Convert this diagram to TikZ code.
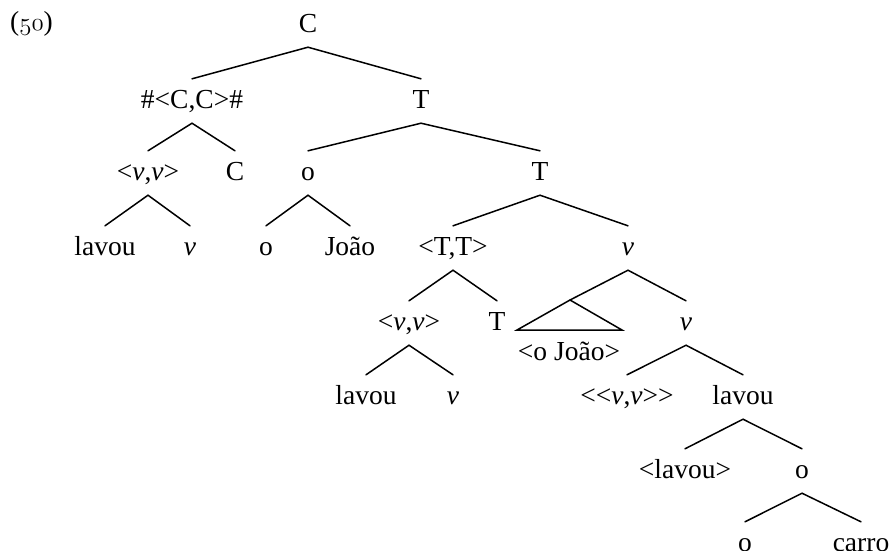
\documentclass[tikz,border=0pt]{standalone}
\usepackage{fontspec}
\setmainfont{Liberation Serif}
\newcommand{\treefont}{\fontsize{27.5}{32}\selectfont}
\newcommand{\osnum}[1]{{\usefont{OML}{lmm}{m}{it}#1}}
\newcommand{\iv}{\textit{v}}
\begin{document}
\begin{tikzpicture}[x=1pt,y=-1pt,
  lbl/.style={anchor=base, text height=20pt, text depth=6pt,
    inner xsep=0pt, inner ysep=9pt, font=\treefont},
  branch/.style={line width=1.5pt, line cap=round, line join=miter}]
\useasboundingbox (0,0) rectangle (891,550);

% example number
\node[anchor=base west, inner sep=0pt, font=\treefont] (exnum) at (10,30) {(\osnum{50})};

% level 0
\node[lbl] (C0) at (308,32) {C};
% level 1
\node[lbl] (CC1) at (192,108) {\#<C,C>\#};
\node[lbl] (T1) at (421,108) {T};
% level 2
\node[lbl] (vv2) at (148,180) {<\iv,\iv>};
\node[lbl] (C2) at (235,180) {C};
\node[lbl] (o2) at (308,180) {o};
\node[lbl] (T2) at (540,180) {T};
% level 3
\node[lbl] (lavou3) at (105,255) {lavou};
\node[lbl] (v3a) at (190,255) {\iv};
\node[lbl] (o3) at (266,255) {o};
\node[lbl] (joao3) at (350,255) {João};
\node[lbl] (TT3) at (453,255) {<T,T>};
\node[lbl] (v3) at (628,255) {\iv};
% level 4
\node[lbl] (vv4) at (409,330) {<\iv,\iv>};
\node[lbl] (T4) at (497,330) {T};
\node[lbl] (v4) at (686,330) {\iv};
\coordinate (tri) at (570,300);
\coordinate (trl) at (517,330);
\coordinate (trr) at (622,330);
\node[lbl] (ojoao4) at (569,360) {<o João>};
% level 5
\node[lbl] (lavou5) at (366,404) {lavou};
\node[lbl] (v5) at (453,404) {\iv};
\node[lbl] (vvv5) at (627,404) {<{}<\iv,\iv>{}>};
\node[lbl] (lavou5b) at (743,404) {lavou};
% level 6
\node[lbl] (lavou6) at (685,478) {<lavou>};
\node[lbl] (o6) at (802,478) {o};
% level 7
\node[lbl] (o7) at (745,551) {o};
\node[lbl] (carro7) at (861,551) {carro};

% branches
\draw[branch] (CC1.north) -- (C0.south) -- (T1.north);
\draw[branch] (vv2.north) -- (CC1.south) -- (C2.north);
\draw[branch] (o2.north) -- (T1.south) -- (T2.north);
\draw[branch] (lavou3.north) -- (vv2.south) -- (v3a.north);
\draw[branch] (o3.north) -- (o2.south) -- (joao3.north);
\draw[branch] (TT3.north) -- (T2.south) -- (v3.north);
\draw[branch] (vv4.north) -- (TT3.south) -- (T4.north);
\draw[branch] (tri) -- (v3.south) -- (v4.north);
\draw[branch] (tri) -- (trl) -- (trr) -- cycle;
\draw[branch] (lavou5.north) -- (vv4.south) -- (v5.north);
\draw[branch] (vvv5.north) -- (v4.south) -- (lavou5b.north);
\draw[branch] (lavou6.north) -- (lavou5b.south) -- (o6.north);
\draw[branch] (o7.north) -- (o6.south) -- (carro7.north);
\end{tikzpicture}
\end{document}
